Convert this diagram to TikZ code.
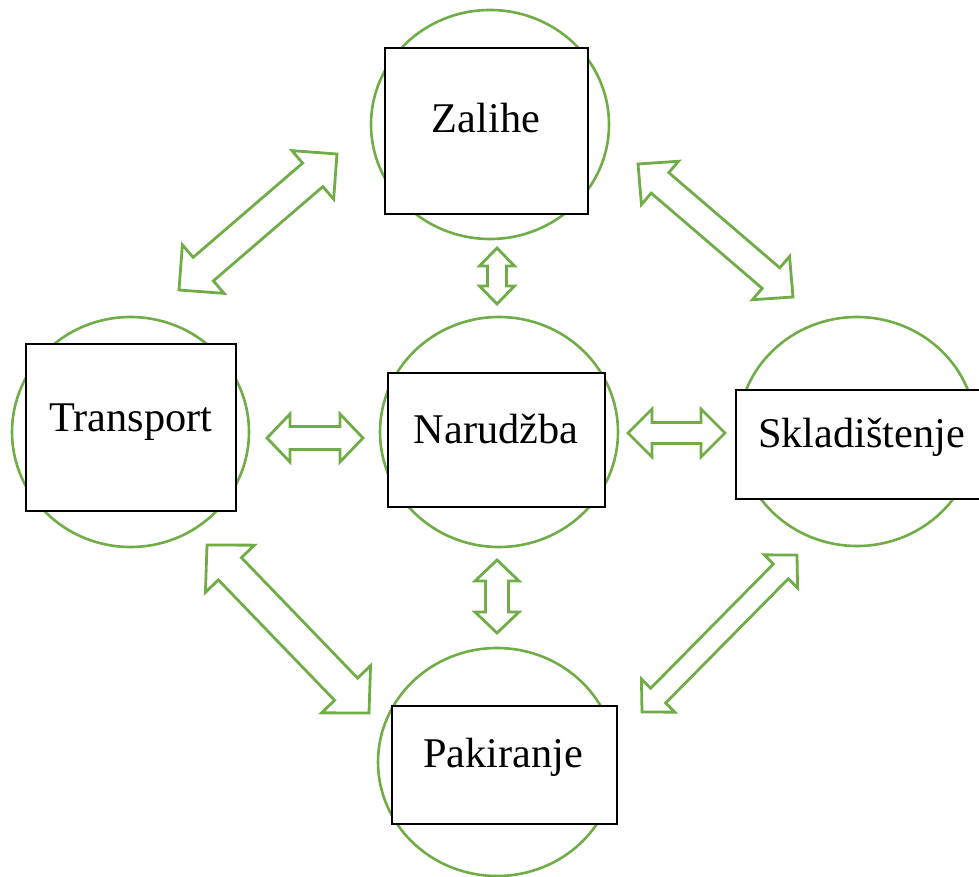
\documentclass[tikz,border=0pt]{standalone}
\usepackage{fontspec}
\setmainfont{Liberation Serif}
\usetikzlibrary{calc,shapes.geometric}
\definecolor{ogreen}{HTML}{70AD47}
\tikzset{
  circ/.style={ellipse, draw=ogreen, line width=2.6pt, fill=white, inner sep=0pt},
  box/.style={rectangle, draw=black, line width=1.2pt, fill=white, inner sep=0pt},
  lbl/.style={font=\fontsize{42.3}{50}\selectfont, inner sep=0pt, anchor=base},
  barrow/.style={draw=ogreen, line width=2.8pt, fill=white, line join=miter},
}
\newcommand\blockarrow[5]{%
  \draw[barrow] (#1)
    -- ($(#1)!#5!(#2)!#4!90:(#2)$)
    -- ($(#1)!#5!(#2)!#3!90:(#2)$)
    -- ($(#2)!#5!(#1)!#3!-90:(#1)$)
    -- ($(#2)!#5!(#1)!#4!-90:(#1)$)
    -- (#2)
    -- ($(#2)!#5!(#1)!#4!90:(#1)$)
    -- ($(#2)!#5!(#1)!#3!90:(#1)$)
    -- ($(#1)!#5!(#2)!#3!-90:(#2)$)
    -- ($(#1)!#5!(#2)!#4!-90:(#2)$)
    -- cycle;}
\begin{document}
\begin{tikzpicture}[x=1pt,y=-1pt]
\useasboundingbox (0,0) rectangle (979,877);
% circles
\node[circ, minimum width=238pt, minimum height=229pt] (zc) at (490,124.5) {};
\node[circ, minimum width=237pt, minimum height=230pt] (tc) at (130.5,432) {};
\node[circ, minimum width=238pt, minimum height=230pt] (nc) at (499,432) {};
\node[circ, minimum width=238pt, minimum height=229pt] (sc) at (857,431.5) {};
\node[circ, minimum width=238pt, minimum height=228pt] (pc) at (497,762) {};
% boxes
\node[box, minimum width=203pt, minimum height=166pt] (zb) at (486.5,131) {};
\node[box, minimum width=210pt, minimum height=167pt] (tb) at (131,427.5) {};
\node[box, minimum width=217pt, minimum height=134pt] (nb) at (496.5,440) {};
\node[box, minimum width=246pt, minimum height=109pt] (sb) at (859,444.5) {};
\node[box, minimum width=225pt, minimum height=118pt] (pb) at (504.5,765) {};
% texts
\node[lbl] (zt) at (486,133) {Zalihe};
\node[lbl] (tt) at (131,431) {Transport};
\node[lbl] (nt) at (496,443) {Narudžba};
\node[lbl] (st) at (861.5,447) {Skladištenje};
\node[lbl] (pt) at (503,767) {Pakiranje};
% arrow tips
\coordinate (tzA) at (179,290);   \coordinate (tzB) at (337,154);
\coordinate (zsA) at (638,164);   \coordinate (zsB) at (793,297);
\coordinate (tpA) at (207,545);   \coordinate (tpB) at (369,713);
\coordinate (spA) at (797,555);   \coordinate (spB) at (642,712);
\coordinate (tnA) at (267,438);   \coordinate (tnB) at (363,438);
\coordinate (nsA) at (628,433);   \coordinate (nsB) at (725,433);
\coordinate (znA) at (497,248);   \coordinate (znB) at (497,304);
\coordinate (npA) at (497,560);   \coordinate (npB) at (497,633);
% block arrows
\blockarrow{tzA}{tzB}{15.5pt}{32pt}{32pt}
\blockarrow{zsA}{zsB}{13.5pt}{28.5pt}{29pt}
\blockarrow{tpA}{tpB}{16pt}{34pt}{33pt}
\blockarrow{spA}{spB}{10.5pt}{23.5pt}{23pt}
\blockarrow{tnA}{tnB}{11.5pt}{24pt}{23pt}
\blockarrow{nsA}{nsB}{10.5pt}{24pt}{24pt}
\blockarrow{znA}{znB}{9.5pt}{17.5pt}{18pt}
\blockarrow{npA}{npB}{11.5pt}{22pt}{21pt}
\end{tikzpicture}
\end{document}
